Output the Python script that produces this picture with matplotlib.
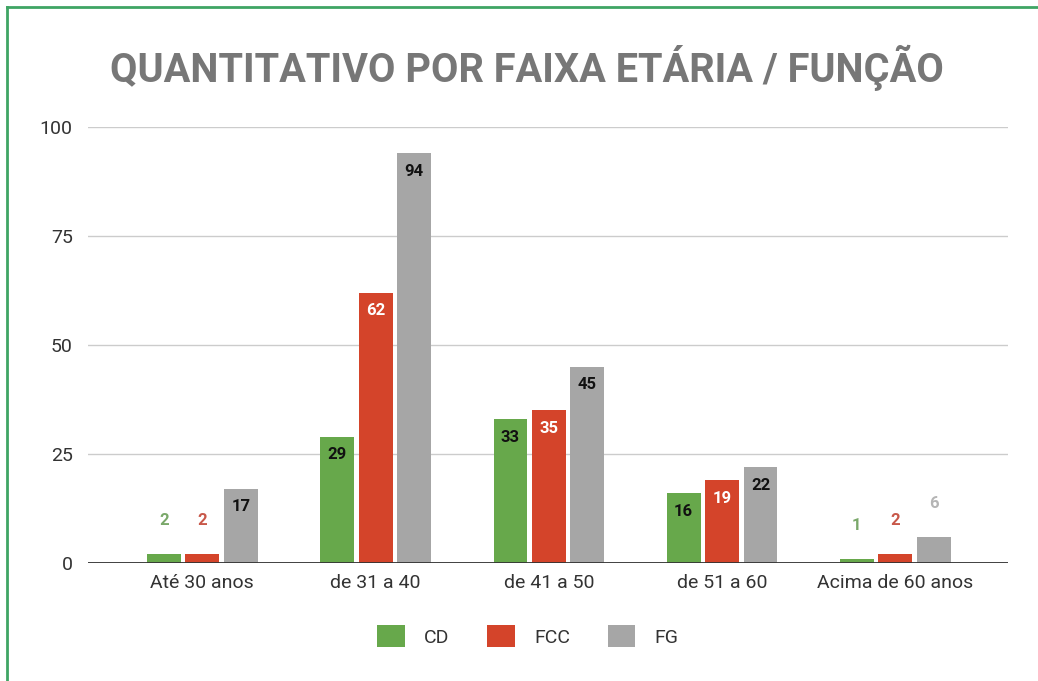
import matplotlib
matplotlib.use("Agg")
import matplotlib.pyplot as plt
import numpy as np
from matplotlib.lines import Line2D
from matplotlib.patches import Patch

plt.rcParams['font.family'] = ['Roboto', 'DejaVu Sans']

categories = ["Até 30 anos", "de 31 a 40", "de 41 a 50", "de 51 a 60", "Acima de 60 anos"]
series_names = ["CD", "FCC", "FG"]
cd_values = [2, 29, 33, 16, 1]
fcc_values = [2, 62, 35, 19, 2]
fg_values = [17, 94, 45, 22, 6]
y_ticks = [0, 25, 50, 75, 100]

colors = ["#67a84b", "#d4442a", "#a6a6a6"]
label_inside = ["#111111", "#ffffff", "#111111"]
label_above = ["#7aa86a", "#c8584a", "#b5b5b5"]

fig = plt.figure(figsize=(10.38, 6.81), dpi=100)
ax = fig.add_axes([88/1038, 1 - 563/681, 920/1038, (563 - 127)/681])

x = np.arange(len(categories))
width = 0.195
step = 0.222
values = [cd_values, fcc_values, fg_values]

for i, (vals, name) in enumerate(zip(values, series_names)):
    pos = x + (i - 1) * step
    bars = ax.bar(pos, vals, width, color=colors[i], label=name, zorder=3)
    for b, v in zip(bars, vals):
        cx = b.get_x() + b.get_width() / 2
        if v >= 10:
            ax.annotate(f"{v}", (cx, v), xytext=(0, -13), textcoords="offset points",
                        ha="center", va="center", fontsize=12, fontweight="bold",
                        color=label_inside[i], zorder=4)
        else:
            ax.annotate(f"{v}", (cx, v), xytext=(0, 24), textcoords="offset points",
                        ha="center", va="center", fontsize=12, fontweight="bold",
                        color=label_above[i], zorder=4)

ax.set_ylim(0, 100)
ax.set_xlim(-0.66, 4.65)
ax.set_yticks(y_ticks)
ax.set_xticks(x)
ax.set_xticklabels(categories)
ax.tick_params(axis="both", length=0, labelsize=14, colors="#333333")
ax.tick_params(axis="y", pad=11)
ax.tick_params(axis="x", pad=8)
ax.grid(axis="y", color="#cccccc", linewidth=1, zorder=0)
for s in ax.spines.values():
    s.set_visible(False)
ax.axhline(0, color="#333333", linewidth=1.3, zorder=5)

fig.text(527/1038, 1 - 68/681, "QUANTITATIVO POR FAIXA ETÁRIA / FUNÇÃO",
         ha="center", va="center", fontsize=28.6, fontweight="bold", color="#777777")

handles = [Patch(facecolor=c, edgecolor="none") for c in colors]
fig.legend(handles, series_names, loc="center", bbox_to_anchor=(528/1038, 1 - 636/681),
           ncol=3, frameon=False, fontsize=14, handlelength=1.4, handleheight=1.3,
           handletextpad=1.0, columnspacing=1.95, labelcolor="#333333")

# green frame along the top and left edges
fig.add_artist(Line2D([7/1038, 1], [1 - 6.5/681, 1 - 6.5/681], transform=fig.transFigure,
                      color="#3fa564", linewidth=2))
fig.add_artist(Line2D([7/1038, 7/1038], [0, 1 - 6.5/681], transform=fig.transFigure,
                      color="#3fa564", linewidth=2))

fig.savefig("out.png", dpi=100)
